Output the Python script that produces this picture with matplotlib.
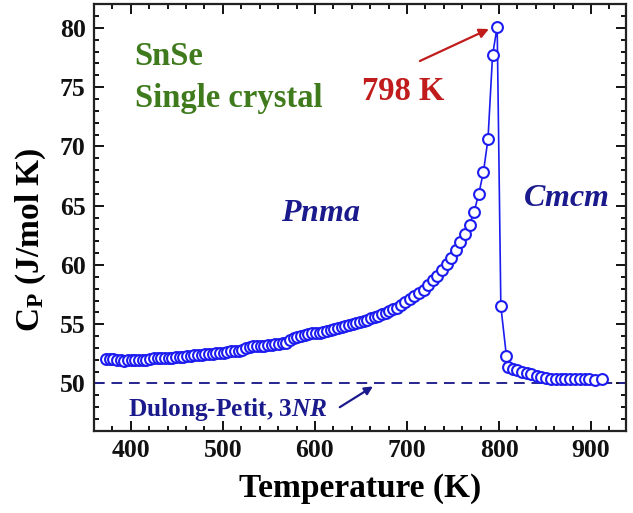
import matplotlib.pyplot as plt
from matplotlib.ticker import MultipleLocator

plt.rcParams['font.family'] = 'Liberation Serif'
plt.rcParams['font.weight'] = 'bold'
plt.rcParams['axes.labelweight'] = 'bold'
plt.rcParams['mathtext.fontset'] = 'custom'
plt.rcParams['mathtext.rm'] = 'Liberation Serif:bold'
plt.rcParams['mathtext.it'] = 'Liberation Serif:bold:italic'
plt.rcParams['mathtext.bf'] = 'Liberation Serif:bold'

# heat capacity of SnSe, low-temperature (Pnma) branch up to the peak
temp_pnma = [373, 377, 381, 385, 389, 393, 397, 401, 405, 409, 413, 417, 421, 425,
             429, 433, 437, 441, 445, 449, 453, 457, 461, 465, 469, 473, 477, 481,
             485, 489, 493, 497, 501, 505, 509, 513, 517, 521, 525, 529, 533, 537,
             541, 545, 549, 553, 557, 561, 565, 569, 573, 577, 581, 585, 589, 593,
             597, 601, 605, 609, 613, 617, 621, 625, 629, 633, 637, 641, 645, 649,
             653, 657, 661, 665, 669, 673, 677, 681, 685, 689, 693, 698, 703, 708,
             713, 718, 723, 728, 733, 738, 743, 748, 753, 758, 763, 768, 773, 778,
             783, 788, 793, 798]
cp_pnma = [52.07, 52.10, 52.05, 52.00, 51.95, 51.92, 51.95, 51.97, 51.98, 51.97,
           51.98, 51.99, 52.05, 52.12, 52.15, 52.13, 52.14, 52.16, 52.18, 52.22,
           52.25, 52.27, 52.30, 52.36, 52.40, 52.42, 52.43, 52.47, 52.50, 52.52,
           52.55, 52.58, 52.60, 52.65, 52.70, 52.74, 52.78, 52.85, 52.98, 53.12,
           53.18, 53.15, 53.16, 53.20, 53.24, 53.27, 53.30, 53.33, 53.38, 53.45,
           53.70, 53.85, 53.95, 54.02, 54.08, 54.15, 54.22, 54.26, 54.30, 54.36,
           54.42, 54.50, 54.60, 54.68, 54.74, 54.82, 54.90, 55.00, 55.10, 55.20,
           55.28, 55.38, 55.50, 55.60, 55.72, 55.85, 55.98, 56.10, 56.25, 56.40,
           56.60, 56.85, 57.10, 57.35, 57.62, 57.90, 58.30, 58.70, 59.10, 59.60,
           60.10, 60.60, 61.25, 61.90, 62.60, 63.40, 64.50, 66.00, 67.80, 70.60,
           77.70, 80.10]

# high-temperature (Cmcm) branch
temp_cmcm = [802, 808, 810, 815, 820, 825, 830, 835, 841, 846, 851, 856, 862, 867,
             872, 877, 883, 888, 893, 898, 904, 912]
cp_cmcm = [56.50, 52.35, 51.40, 51.23, 51.12, 51.00, 50.90, 50.78, 50.67, 50.59,
           50.50, 50.42, 50.37, 50.35, 50.35, 50.35, 50.37, 50.37, 50.36, 50.36,
           50.33, 50.40]

dulong_petit = 50.0

temps = temp_pnma + temp_cmcm
cps = cp_pnma + cp_cmcm

fig = plt.figure(figsize=(6.33, 5.13), dpi=100)
ax = fig.add_axes([0.1485, 0.16, 0.8405, 0.832])

ax.plot(temps, cps, '-o', color='#1c1cf0', lw=1.2, ms=7.8, mfc='white',
        mec='#1c1cf0', mew=1.5, zorder=3)
ax.axhline(dulong_petit, color='#25258f', lw=1.4, ls=(0, (5.5, 3.5)), zorder=2)

ax.set_xlim(360, 938)
ax.set_ylim(46, 82)
ax.xaxis.set_major_locator(MultipleLocator(100))
ax.xaxis.set_minor_locator(MultipleLocator(20))
ax.yaxis.set_major_locator(MultipleLocator(5))
ax.yaxis.set_minor_locator(MultipleLocator(1))
ax.tick_params(which='both', direction='in', top=True, right=True,
               labelsize=18.5, width=1.4, colors='#111111')
ax.tick_params(which='major', length=7, pad=6)
ax.tick_params(which='minor', length=3.5)
for s in ax.spines.values():
    s.set_linewidth(1.6)
    s.set_color('#222222')

ax.set_xlabel('Temperature (K)', fontsize=24, labelpad=8)
ax.set_ylabel(r'C$_\mathrm{P}$ (J/mol K)', fontsize=24)
ax.yaxis.set_label_coords(-0.087, 0.447)

green = '#3f7a1c'
ax.text(404, 77.6, 'SnSe', color=green, fontsize=23.5, va='center')
ax.text(404, 74.0, 'Single crystal', color=green, fontsize=23.5, va='center')
ax.text(651, 74.6, '798 K', color='#c01c1c', fontsize=23.5, va='center')
ax.annotate('', xy=(789, 79.9), xytext=(714, 77.2),
            arrowprops=dict(arrowstyle='-|>', color='#c01c1c', lw=1.6,
                            mutation_scale=14, shrinkA=0, shrinkB=0))

navy = '#1a1a8c'
ax.text(606, 64.3, '$Pnma$', color=navy, fontsize=23, ha='center', va='center')
ax.text(873, 65.6, '$Cmcm$', color=navy, fontsize=23, ha='center', va='center')
ax.text(397, 47.8, 'Dulong-Petit, 3$NR$', color=navy, fontsize=18.3, va='center')
ax.annotate('', xy=(663, 49.75), xytext=(627, 48.0),
            arrowprops=dict(arrowstyle='-|>', color=navy, lw=1.6,
                            mutation_scale=12, shrinkA=0, shrinkB=0))

fig.savefig('out.png', dpi=100)
